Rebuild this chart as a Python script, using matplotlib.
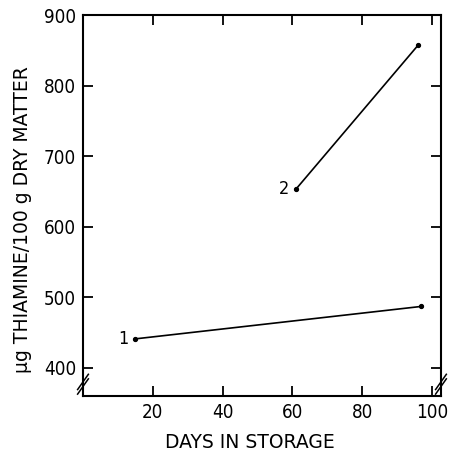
import matplotlib
matplotlib.use("Agg")
import matplotlib.pyplot as plt

# data
days_1 = [15, 97]
thiamine_1 = [441, 487]
days_2 = [61, 96]
thiamine_2 = [653, 857]
x_ticks = [20, 40, 60, 80, 100]
y_ticks = [400, 500, 600, 700, 800, 900]

fig = plt.figure(figsize=(4.52, 4.53), dpi=100)
ax = fig.add_axes([0.1836, 0.1258, 0.792, 0.841])

for xs, ys, lab in [(days_1, thiamine_1, "1"), (days_2, thiamine_2, "2")]:
    ax.plot(xs, ys, color="black", lw=1.2, marker="o", ms=2.8)
    ax.annotate(lab, (xs[0], ys[0]), xytext=(-5, 0), textcoords="offset points",
                ha="right", va="center", fontsize=13, fontstretch="condensed")

ax.set_xlim(0, 102.6)
ax.set_ylim(360, 900)
ax.set_xticks(x_ticks)
ax.set_yticks(y_ticks)
ax.tick_params(direction="in", length=7, width=1.3, top=True, right=True,
               labelsize=13.5, pad=5)
for lbl in ax.get_xticklabels() + ax.get_yticklabels():
    lbl.set_fontstretch("condensed")
for s in ax.spines.values():
    s.set_linewidth(1.5)

# axis break marks on both vertical spines
for xa in (0, 1):
    for dy in (0, 0.012):
        ax.plot([xa - 0.015, xa + 0.015], [0.005 + dy, 0.045 + dy],
                transform=ax.transAxes, color="black", lw=1.1, clip_on=False)

fig.text(23 / 452, 1 - 220 / 453, "\u03bcg THIAMINE/100 g DRY MATTER",
         rotation=90, ha="center", va="center", fontsize=13.5)
fig.text(250 / 452, 1 - 443 / 453, "DAYS IN STORAGE",
         ha="center", va="center", fontsize=13.5)

fig.savefig("out.png", dpi=100)
